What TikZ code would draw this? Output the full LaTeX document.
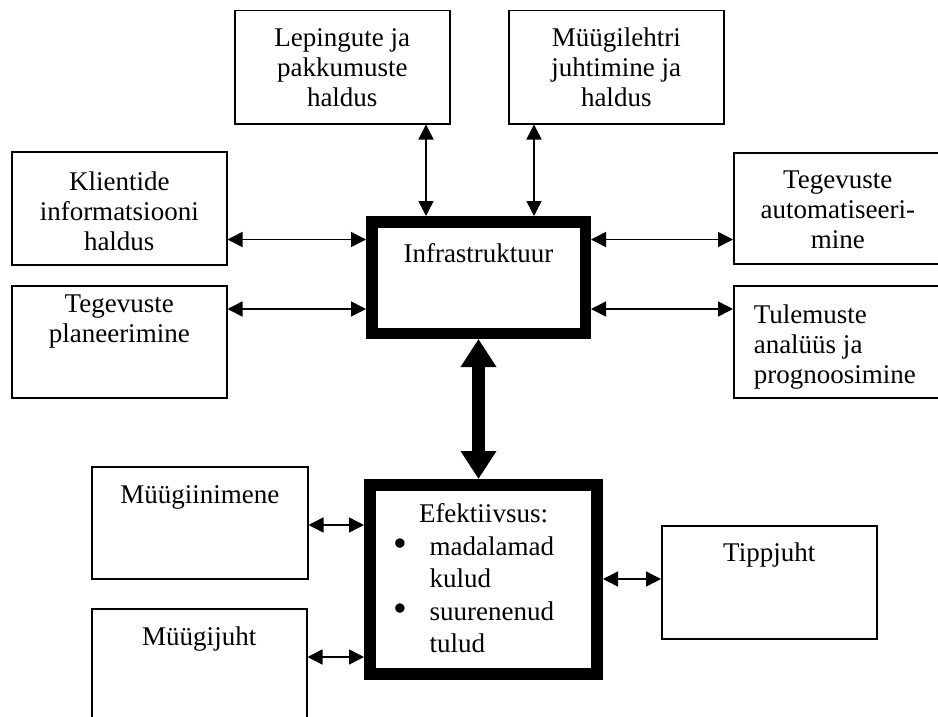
\documentclass[tikz,border=0pt]{standalone}
\usepackage{fontspec}
\usepackage{graphicx}
\setmainfont{Liberation Serif}
\usetikzlibrary{arrows.meta}

\tikzset{
 kast/.style={draw, line width=1.5pt, inner sep=0pt, anchor=north west},
 tekst/.style={anchor=north, inner sep=0pt, align=center},
 nool/.style={line width=1.5pt,
   {Triangle[length=15pt,width=15pt]}-{Triangle[length=15pt,width=15pt]}},
 suurnool/.style={line width=13pt,
   {Triangle[length=28pt,width=34pt]}-{Triangle[length=28pt,width=34pt]}}
}
\newcommand{\tapp}{\raisebox{-1.5pt}{\scalebox{1.45}{\textbullet}}}

\begin{document}
\begin{tikzpicture}[x=1pt, y=-1pt, font=\fontsize{27}{30}\selectfont]

\newcommand{\kast}[7][yshift=-19pt] % [label][name][x][y][w][h][text]
{
 \node[kast, minimum width=#5 pt, minimum height=#6 pt,
   label={[tekst,#1]north:{#7}}] (#2) at (#3,#4) {};
}

\useasboundingbox (0,0) rectangle (938,717);

\kast[yshift=-18pt]{lep}{234}{10}{215}{113}{Lepingute ja\\pakkumuste\\haldus}
\kast[yshift=-18pt]{myy}{508}{10}{215}{113}{Müügilehtri\\juhtimine ja\\haldus}
\kast[yshift=-21pt]{kli}{11}{151}{215}{113}{Klientide\\informatsiooni\\haldus}
\kast[yshift=-10pt]{plan}{11}{285}{215}{112}{Tegevuste\\planeerimine}
\kast{aut}{733}{152}{208}{111}{Tegevuste\\automatiseeri-\\mine}
\kast[yshift=-20pt,xshift=-3pt,align=left]{tul}{733}{285}{208}{112}{Tulemuste\\analüüs ja\\prognoosimine}
\kast{inim}{91}{466}{216}{112}{Müügiinimene}
\kast{juht}{91}{608}{215}{130}{Müügijuht}
\kast[yshift=-18pt]{tipp}{661}{525}{215}{113}{Tippjuht}

\begin{scope}[kast/.append style={line width=11.5pt}]
 \kast[yshift=-27pt]{infra}{366}{216}{213.5}{111.5}{Infrastruktuur}
\end{scope}
\begin{scope}[kast/.append style={line width=12pt}]
 \kast[yshift=-21pt]{efek}{364}{479}{227}{189}{\renewcommand\arraystretch{1.08}%
  \begin{tabular}{@{}l@{\hspace{22pt}}l@{\hspace{19pt}}}
   \multicolumn{2}{@{}c@{}}{Efektiivsus:}\\
   \tapp & madalamad\\ & kulud\\
   \tapp & suurenenud\\ & tulud
  \end{tabular}}
\end{scope}

\coordinate (ya) at (0,239.5);
\coordinate (yb) at (0,309);
\coordinate (yc) at (0,525);
\coordinate (yd) at (0,657);
\coordinate (ye) at (0,579);
\coordinate (xa) at (426,0);
\coordinate (xb) at (534,0);

\foreach \a/\b in {lep.south -| xa/infra.north -| xa, myy.south -| xb/infra.north -| xb,
  kli.east |- ya/infra.west |- ya, plan.east |- yb/infra.west |- yb,
  infra.east |- ya/aut.west |- ya, infra.east |- yb/tul.west |- yb,
  inim.east |- yc/efek.west |- yc, juht.east |- yd/efek.west |- yd,
  efek.east |- ye/tipp.west |- ye}
 \draw[nool] (\a) -- (\b);
\draw[suurnool] (infra.south) -- (infra.south |- efek.north);

\end{tikzpicture}
\end{document}
